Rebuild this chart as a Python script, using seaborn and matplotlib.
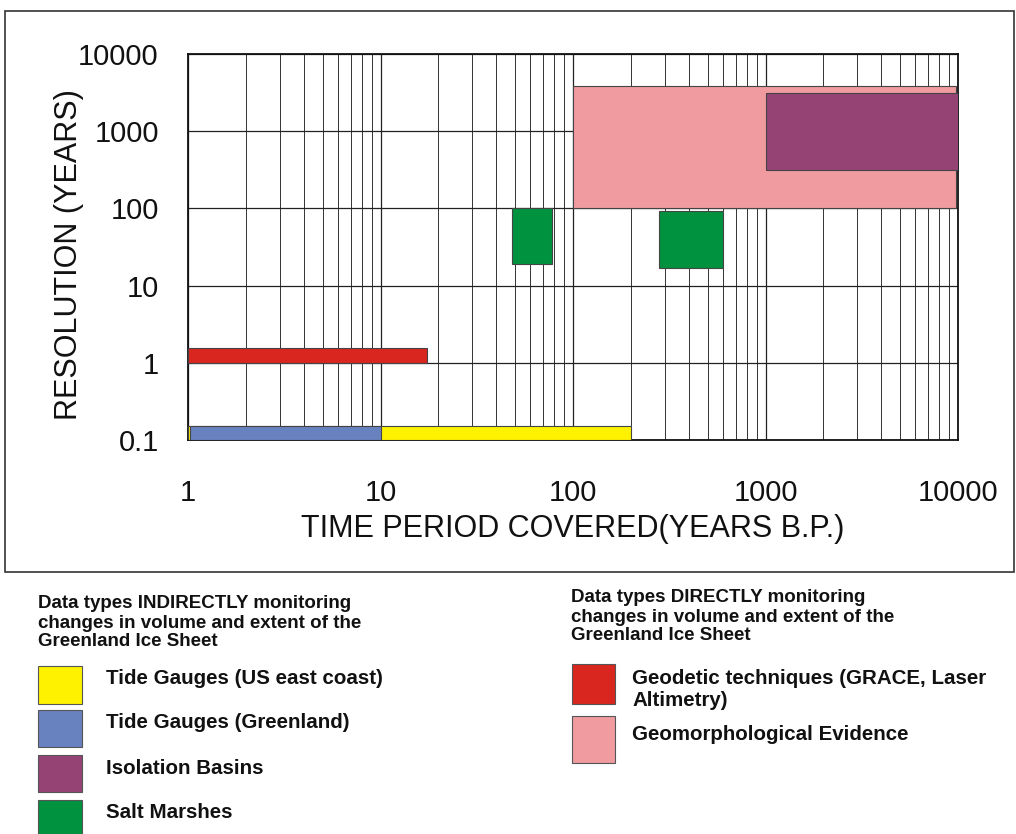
import matplotlib
matplotlib.use("Agg")
import matplotlib.pyplot as plt
import seaborn as sns
import pandas as pd
from matplotlib.patches import Rectangle
from matplotlib.ticker import FixedLocator, NullFormatter

# ---- data ----
categories = ["Geomorphological Evidence", "Isolation Basins", "Salt Marshes", "Salt Marshes",
              "Tide Gauges (US east coast)", "Tide Gauges (Greenland)",
              "Geodetic techniques (GRACE, Laser Altimetry)"]
period_start = [100, 1000, 48, 280, 1, 1.03, 1]
period_end = [9800, 10000, 78, 600, 200, 10, 17.5]
res_low = [100, 310, 19, 17, 0.1, 0.1, 1.0]
res_high = [3800, 3100, 100, 92, 0.15, 0.15, 1.55]
colors = ["#ef9ba0", "#954375", "#00923f", "#00923f", "#fff200", "#6782bf", "#d9261f"]

tick_values = [1, 10, 100, 1000, 10000]
ytick_values = [0.1, 1, 10, 100, 1000, 10000]
xtick_labels = ["1", "10", "100", "1000", "10000"]
ytick_labels = ["0.1", "1", "10", "100", "1000", "10000"]

indirect_items = ["Tide Gauges (US east coast)", "Tide Gauges (Greenland)", "Isolation Basins", "Salt Marshes"]
indirect_colors = ["#fff200", "#6782bf", "#954375", "#00923f"]
direct_items = ["Geodetic techniques (GRACE, Laser\nAltimetry)", "Geomorphological Evidence"]
direct_colors = ["#d9261f", "#ef9ba0"]

df = pd.DataFrame({"cat": categories, "x0": period_start, "x1": period_end,
                   "y0": res_low, "y1": res_high, "color": colors})

sns.set_style("white")
plt.rcParams["font.family"] = ["Liberation Sans", "DejaVu Sans"]

W, H = 1016, 834
fig = plt.figure(figsize=(W / 100, H / 100), dpi=100)

# outer frame
fig.patches.append(Rectangle((5 / W, 1 - 572 / H), (1014 - 5) / W, (572 - 11) / H,
                             transform=fig.transFigure, fill=False, edgecolor="#333333", lw=1.2))

ax = fig.add_axes([188 / W, 1 - 440 / H, (958 - 188) / W, (440 - 54) / H])
ax.set_xscale("log")
ax.set_yscale("log")
ax.set_xlim(1, 10000)
ax.set_ylim(0.1, 10000)

minor_x = [m * 10 ** e for e in range(0, 4) for m in range(2, 10)]
ax.xaxis.set_minor_locator(FixedLocator(minor_x))
ax.xaxis.set_minor_formatter(NullFormatter())
ax.yaxis.set_minor_locator(FixedLocator([]))
ax.grid(True, which="major", axis="both", color="#222222", lw=0.9)
ax.grid(True, which="minor", axis="x", color="#333333", lw=0.7)
ax.set_axisbelow(True)

for _, r in df.iterrows():
    ax.bar(x=r.x0, height=r.y1 - r.y0, width=r.x1 - r.x0, bottom=r.y0, align="edge",
           color=r.color, edgecolor="#444444", lw=0.8, zorder=3)

ax.set_xticks(tick_values)
ax.set_xticklabels(xtick_labels)
ax.set_yticks(ytick_values)
ax.set_yticklabels(ytick_labels)
ax.tick_params(axis="both", which="major", labelsize=21, length=8, direction="out", width=1,
               color="#222222", labelcolor="#111111")
ax.tick_params(axis="x", which="major", pad=20)
ax.tick_params(axis="y", which="major", pad=13)
ax.tick_params(axis="x", which="minor", length=0)
for s in ax.spines.values():
    s.set_color("#111111")
    s.set_linewidth(1.3)

ax.set_xlabel("TIME PERIOD COVERED(YEARS B.P.)", fontsize=22, color="#111111")
ax.set_ylabel("RESOLUTION (YEARS)", fontsize=22, color="#111111")
ax.xaxis.set_label_coords(0.5, (440 - 514) / 386)
ax.yaxis.set_label_coords((84 - 188) / 770, (440 - 255) / 386)

# ---- legend below ----
hdr_kw = dict(fontsize=13.5, fontweight="bold", va="center", ha="left", color="#111111")
item_kw = dict(fontsize=14.8, fontweight="bold", va="center", ha="left", color="#111111")

def fx(px):
    return px / W

def fy(py):
    return 1 - py / H

left_hdr = ["Data types INDIRECTLY monitoring", "changes in volume and extent of the", "Greenland Ice Sheet"]
for i, t in enumerate(left_hdr):
    fig.text(fx(38), fy(604 + 19 * i), t, **hdr_kw)
right_hdr = ["Data types DIRECTLY monitoring", "changes in volume and extent of the", "Greenland Ice Sheet"]
for i, t in enumerate(right_hdr):
    fig.text(fx(571), fy(598 + 19 * i), t, **hdr_kw)

left_rows = [(666, 704), (710, 747), (755, 792), (800, 840)]
for (t0, t1), lab, c in zip(left_rows, indirect_items, indirect_colors):
    fig.patches.append(Rectangle((fx(38), fy(t1)), 44 / W, (t1 - t0) / H, transform=fig.transFigure,
                                 facecolor=c, edgecolor="#555555", lw=0.8))
    fig.text(fx(106), fy(t0 + 13), lab, **item_kw)

right_rows = [(664, 704), (716, 763)]
text_y = [(679, 701), (735,)]
for (t0, t1), lab, c, ty in zip(right_rows, direct_items, direct_colors, text_y):
    fig.patches.append(Rectangle((fx(572), fy(t1)), 43 / W, (t1 - t0) / H, transform=fig.transFigure,
                                 facecolor=c, edgecolor="#555555", lw=0.8))
    for line, yy in zip(lab.split("\n"), ty):
        fig.text(fx(632), fy(yy), line, **item_kw)

fig.savefig("out.png", dpi=100)
